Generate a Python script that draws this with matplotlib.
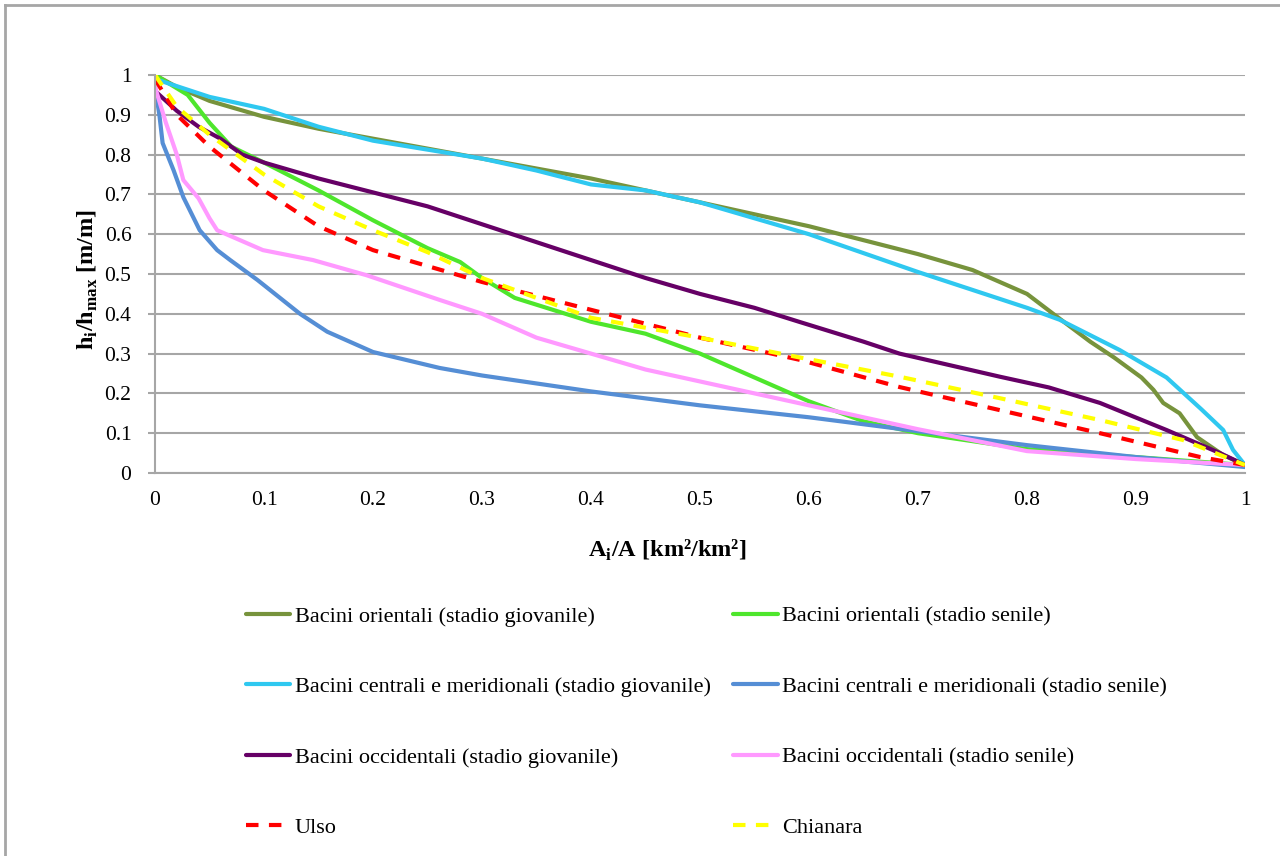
import matplotlib
matplotlib.use("Agg")
import matplotlib.pyplot as plt
from matplotlib.lines import Line2D

# hypsometric curves, values
or_giov_x = [0, 0.02, 0.05, 0.1, 0.15, 0.2, 0.3, 0.4, 0.5, 0.6, 0.7, 0.75, 0.8, 0.824, 0.858, 0.88, 0.905, 0.916, 0.925, 0.94, 0.956, 0.98, 1]
or_giov_y = [1, 0.97, 0.935, 0.895, 0.865, 0.84, 0.79, 0.74, 0.68, 0.62, 0.55, 0.51, 0.45, 0.40, 0.33, 0.29, 0.24, 0.209, 0.176, 0.15, 0.09, 0.045, 0.02]

or_sen_x = [0, 0.03, 0.05, 0.07, 0.1, 0.15, 0.2, 0.25, 0.28, 0.3, 0.33, 0.4, 0.45, 0.5, 0.55, 0.6, 0.65, 0.7, 0.8, 0.9, 1]
or_sen_y = [1, 0.95, 0.88, 0.82, 0.78, 0.71, 0.635, 0.565, 0.53, 0.49, 0.44, 0.38, 0.35, 0.30, 0.24, 0.18, 0.13, 0.10, 0.06, 0.04, 0.02]

ce_giov_x = [0, 0.05, 0.1, 0.15, 0.2, 0.3, 0.35, 0.4, 0.45, 0.5, 0.6, 0.7, 0.8, 0.83, 0.885, 0.928, 0.96, 0.98, 0.989, 1]
ce_giov_y = [0.99, 0.945, 0.915, 0.87, 0.835, 0.79, 0.76, 0.725, 0.71, 0.68, 0.60, 0.505, 0.415, 0.385, 0.309, 0.24, 0.16, 0.108, 0.058, 0.02]

ce_sen_x = [0, 0.004, 0.007, 0.017, 0.026, 0.041, 0.057, 0.069, 0.094, 0.133, 0.158, 0.2, 0.261, 0.3, 0.4, 0.5, 0.6, 0.7, 0.8, 0.9, 1]
ce_sen_y = [0.97, 0.9, 0.829, 0.761, 0.693, 0.61, 0.56, 0.535, 0.485, 0.40, 0.355, 0.304, 0.264, 0.245, 0.205, 0.17, 0.14, 0.105, 0.07, 0.04, 0.015]

oc_giov_x = [0, 0.02, 0.04, 0.06, 0.08, 0.1, 0.15, 0.2, 0.25, 0.3, 0.35, 0.4, 0.45, 0.5, 0.55, 0.592, 0.65, 0.683, 0.775, 0.82, 0.867, 0.928, 0.977, 1]
oc_giov_y = [0.96, 0.91, 0.87, 0.84, 0.80, 0.78, 0.74, 0.705, 0.67, 0.625, 0.58, 0.535, 0.49, 0.45, 0.415, 0.379, 0.33, 0.30, 0.242, 0.215, 0.176, 0.108, 0.05, 0.02]

oc_sen_x = [0, 0.01, 0.02, 0.026, 0.04, 0.05, 0.057, 0.078, 0.099, 0.145, 0.194, 0.261, 0.3, 0.35, 0.4, 0.45, 0.5, 0.6, 0.7, 0.8, 0.9, 1]
oc_sen_y = [0.97, 0.88, 0.8, 0.736, 0.69, 0.64, 0.61, 0.585, 0.56, 0.535, 0.497, 0.435, 0.40, 0.34, 0.30, 0.26, 0.23, 0.17, 0.11, 0.055, 0.035, 0.02]

ulso_x = [0, 0.02, 0.05, 0.1, 0.15, 0.2, 0.25, 0.3, 0.4, 0.5, 0.592, 0.683, 0.775, 0.867, 0.959, 1]
ulso_y = [0.99, 0.9, 0.82, 0.71, 0.62, 0.56, 0.52, 0.48, 0.41, 0.34, 0.284, 0.216, 0.158, 0.10, 0.04, 0.02]

chian_x = [0, 0.02, 0.05, 0.1, 0.15, 0.2, 0.25, 0.3, 0.35, 0.4, 0.5, 0.592, 0.683, 0.775, 0.867, 0.943, 1]
chian_y = [1, 0.92, 0.85, 0.75, 0.67, 0.61, 0.555, 0.49, 0.44, 0.39, 0.34, 0.29, 0.242, 0.188, 0.133, 0.083, 0.02]

plt.rcParams["font.family"] = "Liberation Serif"
plt.rcParams["font.size"] = 15

fig = plt.figure(figsize=(12.8, 8.56), dpi=100)
ax = fig.add_axes([155 / 1280, 1 - 473 / 856, 1090 / 1280, 398 / 856])

lw = 3
series = [
    (or_giov_x, or_giov_y, "#77933C", "-", "Bacini orientali (stadio giovanile)"),
    (or_sen_x, or_sen_y, "#4EE62C", "-", "Bacini orientali (stadio senile)"),
    (ce_giov_x, ce_giov_y, "#2FC8F0", "-", "Bacini centrali e meridionali (stadio giovanile)"),
    (ce_sen_x, ce_sen_y, "#558ED5", "-", "Bacini centrali e meridionali (stadio senile)"),
    (oc_giov_x, oc_giov_y, "#660066", "-", "Bacini occidentali (stadio giovanile)"),
    (oc_sen_x, oc_sen_y, "#FF99FF", "-", "Bacini occidentali (stadio senile)"),
    (ulso_x, ulso_y, "#FF0000", (0, (3, 2.5)), "Ulso"),
    (chian_x, chian_y, "#FFFF00", (0, (3, 2.5)), "Chianara"),
]
lines = {}
for x, y, c, ls, lab in series:
    ln, = ax.plot(x, y, color=c, linestyle=ls, linewidth=lw, label=lab,
                  solid_capstyle="round", dash_capstyle="butt")
    lines[lab] = ln

ax.set_xlim(0, 1)
ax.set_ylim(0, 1)
ax.set_xticks([i / 10 for i in range(11)])
ax.set_xticklabels(["0"] + [f"{i / 10:g}" for i in range(1, 10)] + ["1"])
ax.set_yticks([i / 10 for i in range(11)])
ax.set_yticklabels(["0"] + [f"{i / 10:g}" for i in range(1, 10)] + ["1"])
ax.grid(axis="y", color="#A6A6A6", linewidth=1.5)
ax.set_axisbelow(True)
for s in ["top", "right"]:
    ax.spines[s].set_visible(False)
for s in ["left", "bottom"]:
    ax.spines[s].set_color("#A6A6A6")
    ax.spines[s].set_linewidth(1.5)
ax.tick_params(axis="x", length=0, pad=13, labelsize=15.5)
ax.tick_params(axis="y", length=5, color="#A6A6A6", width=1.5, pad=12, labelsize=15.5)

ax.set_xlabel("A$_\\mathregular{i}$/A [km²/km²]", fontweight="bold", fontsize=17.5,
              labelpad=20, x=0.47)
ax.set_ylabel("h$_\\mathregular{i}$/h$_\\mathregular{max}$ [m/m]", fontweight="bold", fontsize=17.5,
              labelpad=3, y=0.485)

order = [
    "Bacini orientali (stadio giovanile)",
    "Bacini centrali e meridionali (stadio giovanile)",
    "Bacini occidentali (stadio giovanile)",
    "Ulso",
    "Bacini orientali (stadio senile)",
    "Bacini centrali e meridionali (stadio senile)",
    "Bacini occidentali (stadio senile)",
    "Chianara",
]
leg = fig.legend([lines[k] for k in order], order, ncol=2, frameon=False,
                 loc="upper left", bbox_to_anchor=(226 / 1280, 1 - 586 / 856),
                 fontsize=16, handlelength=2.0, handletextpad=0.2,
                 labelspacing=2.25, columnspacing=1.0)

# outer chart frame (top and left edges visible)
fig.add_artist(Line2D([5 / 1280, 1.0], [1 - 5 / 856, 1 - 5 / 856], color="#A6A6A6", linewidth=2, transform=fig.transFigure))
fig.add_artist(Line2D([5 / 1280, 5 / 1280], [0.0, 1 - 5 / 856], color="#A6A6A6", linewidth=2, transform=fig.transFigure))

fig.savefig("out.png", dpi=100)
